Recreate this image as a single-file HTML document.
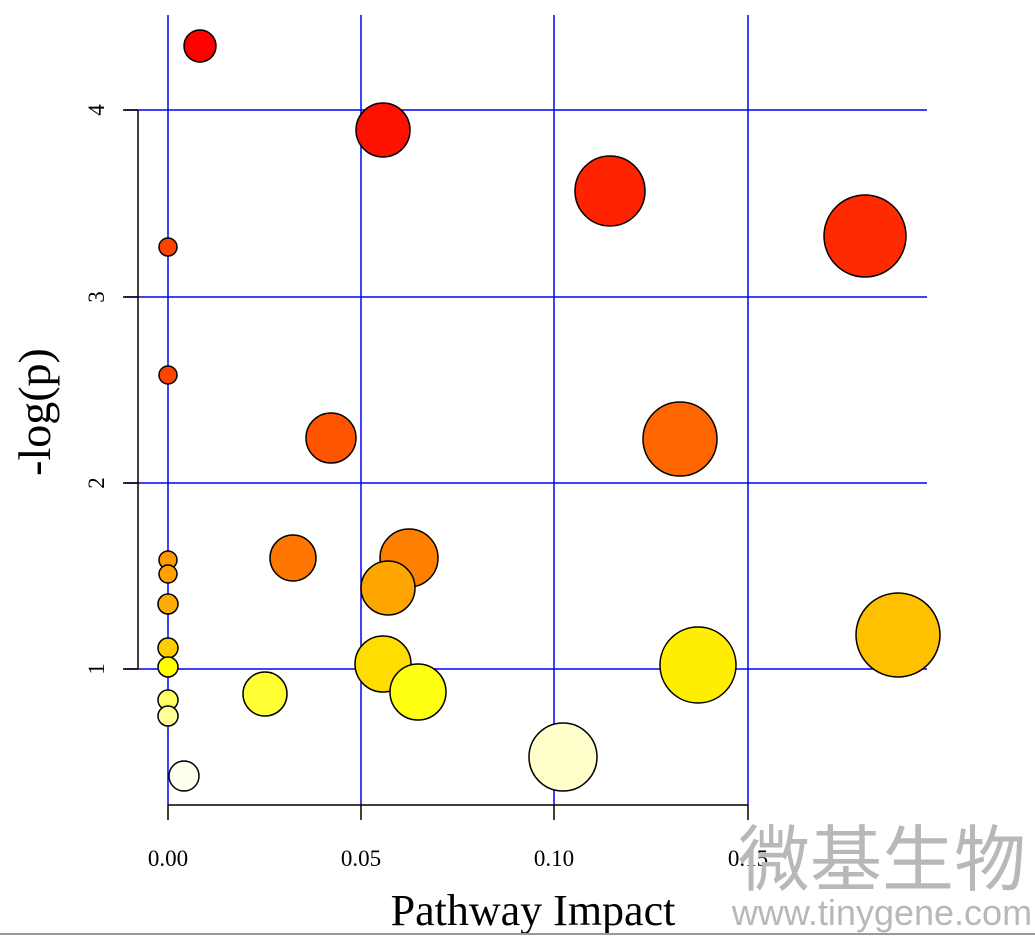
<!DOCTYPE html>
<html><head><style>body{margin:0;background:#fff;}svg{display:block}</style></head><body>
<svg width="1035" height="937" xmlns="http://www.w3.org/2000/svg" font-family="Liberation Serif, serif">
<g stroke="#0000ff" stroke-width="1.5">
<line x1="168" y1="15" x2="168" y2="805"/><line x1="361" y1="15" x2="361" y2="805"/>
<line x1="554" y1="15" x2="554" y2="805"/><line x1="748" y1="15" x2="748" y2="805"/>
<line x1="125" y1="110" x2="927" y2="110"/><line x1="125" y1="297" x2="927" y2="297"/>
<line x1="125" y1="483" x2="927" y2="483"/><line x1="125" y1="669" x2="927" y2="669"/>
</g>
<g stroke="#000" stroke-width="1.5" fill="none">
<line x1="168" y1="805" x2="748" y2="805"/>
<line x1="168" y1="805" x2="168" y2="820"/><line x1="361" y1="805" x2="361" y2="820"/>
<line x1="554" y1="805" x2="554" y2="820"/><line x1="748" y1="805" x2="748" y2="820"/>
<line x1="138" y1="110" x2="138" y2="669"/>
<line x1="123" y1="110" x2="138" y2="110"/><line x1="123" y1="297" x2="138" y2="297"/>
<line x1="123" y1="483" x2="138" y2="483"/><line x1="123" y1="669" x2="138" y2="669"/>
</g>
<g stroke="#000" stroke-width="1.5">
<circle cx="200" cy="46" r="16" fill="#ff0000"/>
<circle cx="383" cy="130" r="27" fill="#ff1100"/>
<circle cx="610" cy="191" r="35" fill="#ff2200"/>
<circle cx="865" cy="236" r="41" fill="#ff2a00"/>
<circle cx="168" cy="247" r="9" fill="#ff4400"/>
<circle cx="168" cy="375" r="9" fill="#ff4400"/>
<circle cx="331" cy="438" r="25" fill="#ff5500"/>
<circle cx="680" cy="439" r="37" fill="#ff6600"/>
<circle cx="293" cy="558" r="23" fill="#ff7700"/>
<circle cx="409" cy="558" r="29" fill="#ff8000"/>
<circle cx="168" cy="560" r="9" fill="#ff9900"/>
<circle cx="168" cy="574" r="9" fill="#ffa000"/>
<circle cx="388" cy="588" r="27" fill="#ffa500"/>
<circle cx="168" cy="604" r="10" fill="#ffaa00"/>
<circle cx="168" cy="648" r="10" fill="#ffcc00"/>
<circle cx="898" cy="635" r="42" fill="#ffc000"/>
<circle cx="383" cy="664" r="28" fill="#ffdd00"/>
<circle cx="698" cy="665" r="38" fill="#ffee00"/>
<circle cx="168" cy="667" r="10" fill="#ffff00"/>
<circle cx="418" cy="692" r="28" fill="#ffff11"/>
<circle cx="265" cy="694" r="22" fill="#ffff33"/>
<circle cx="168" cy="700" r="10" fill="#ffff66"/>
<circle cx="168" cy="716" r="10" fill="#ffff99"/>
<circle cx="563" cy="757" r="34" fill="#ffffcc"/>
<circle cx="184" cy="776" r="15" fill="#ffffee"/>
</g>
<g font-size="23" fill="#000" text-anchor="middle">
<text x="168" y="866">0.00</text><text x="361" y="866">0.05</text>
<text x="554" y="866">0.10</text><text x="748" y="866">0.15</text>
<text transform="translate(104,110) rotate(-90)">4</text>
<text transform="translate(104,297) rotate(-90)">3</text>
<text transform="translate(104,483) rotate(-90)">2</text>
<text transform="translate(104,669) rotate(-90)">1</text>
</g>
<text x="533" y="925" font-size="44" text-anchor="middle">Pathway Impact</text>
<text transform="translate(50,412) rotate(-90)" font-size="46" text-anchor="middle">-log(p)</text>
<text x="882" y="885" font-size="72" fill="#b8b8b8" text-anchor="middle" font-family="Noto Sans CJK SC, sans-serif">微基生物</text>
<text x="882" y="925" font-size="36" fill="#b8b8b8" text-anchor="middle" font-family="Liberation Sans, sans-serif">www.tinygene.com</text>
<line x1="0" y1="934" x2="1035" y2="934" stroke="#999" stroke-width="2"/>
</svg>
</body></html>
